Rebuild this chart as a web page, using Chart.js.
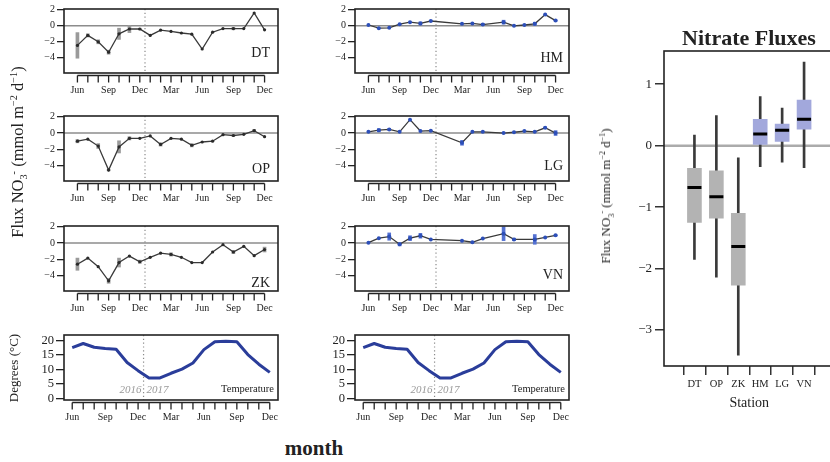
<!DOCTYPE html>
<html>
<head>
<meta charset="utf-8">
<script src="https://cdn.jsdelivr.net/npm/chart.js"></script>
<title>Nitrate fluxes</title>
<style>
  body { margin:0; width:830px; height:462px; overflow:hidden; position:relative; background:#fff;
         font-family:"Liberation Serif", serif; color:#222; }
  canvas { position:absolute; }
  .txt { position:absolute; white-space:nowrap; transform:translate(-50%,-50%); }
  .rot { transform:translate(-50%,-50%) rotate(-90deg); }
  sup, sub { font-size:62%; line-height:0; }
</style>
</head>
<body>
<canvas id="dt"></canvas><canvas id="op"></canvas><canvas id="zk"></canvas><canvas id="tl"></canvas>
<canvas id="hm"></canvas><canvas id="lg"></canvas><canvas id="vn"></canvas><canvas id="tr"></canvas>
<canvas id="box"></canvas>

<div class="txt rot" style="left:18px;top:152px;font-size:16.5px">Flux NO<sub>3</sub><sup>-</sup> (mmol m<sup>−2</sup> d<sup>−1</sup>)</div>
<div class="txt rot" style="left:14px;top:368px;font-size:13px">Degrees (°C)</div>
<div class="txt" style="left:314px;top:448px;font-size:21px;font-weight:bold">month</div>
<div class="txt" style="left:749px;top:38px;font-size:22px;font-weight:bold">Nitrate Fluxes</div>
<div class="txt rot" style="left:606px;top:196px;font-size:13px">Flux NO<sub>3</sub><sup>-</sup> (mmol m<sup>−2</sup> d<sup>−1</sup>)</div>

<script>
  // months Jun 2016 .. Dec 2017
  const months = ['Jun','Jul','Aug','Sep','Oct','Nov','Dec','Jan','Feb','Mar','Apr','May','Jun','Jul','Aug','Sep','Oct','Nov','Dec'];

  const dtFlux = [-2.45,-1.2,-2.0,-3.3,-1.0,-0.4,-0.4,-1.2,-0.55,-0.7,-0.9,-1.05,-2.9,-0.8,-0.35,-0.35,-0.35,1.6,-0.5];
  const dtErr  = [1.6,0.2,0.25,0.25,0.7,0.45,0.1,0,0,0,0,0,0,0,0,0.15,0,0,0];
  const opFlux = [-1.0,-0.75,-1.6,-4.55,-1.7,-0.65,-0.65,-0.35,-1.4,-0.65,-0.75,-1.5,-1.1,-1.0,-0.2,-0.3,-0.15,0.3,-0.45];
  const opErr  = [0.2,0,0.3,0.1,0.75,0.2,0,0,0.2,0,0,0.2,0,0,0,0.1,0,0.15,0];
  const zkFlux = [-2.6,-1.85,-2.9,-4.65,-2.4,-1.6,-2.3,-1.75,-1.25,-1.4,-1.75,-2.4,-2.4,-1.1,-0.2,-1.1,-0.4,-1.55,-0.8];
  const zkErr  = [0.75,0,0,0.3,0.55,0,0.2,0,0,0.2,0,0,0,0,0,0.2,0,0,0.3];
  const hmFlux = [0.1,-0.3,-0.25,0.2,0.45,0.3,0.6,null,null,0.25,0.3,0.15,null,0.45,0.0,0.1,0.25,1.4,0.65];
  const hmErr  = [0,0,0,0,0,0.2,0,0,0,0,0,0.15,0,0.25,0,0,0.2,0,0.1];
  const lgFlux = [0.15,0.35,0.45,0.15,1.65,0.25,0.3,null,null,-1.2,0.15,0.15,null,0.0,0.1,0.25,0.15,0.65,0.0];
  const lgErr  = [0,0.2,0.1,0,0,0,0,0,0,0.3,0,0,0,0,0,0,0,0.1,0.3];
  const vnFlux = [0.05,0.6,0.8,-0.15,0.6,0.9,0.45,null,null,0.3,0.1,0.55,null,1.15,0.45,null,0.45,0.7,0.95];
  const vnErr  = [0,0,0.45,0.2,0.3,0.3,0,0,0,0,0,0,0,0.85,0.15,0,0.6,0,0.1];

  const temperature = [17.5,18.9,17.6,17.2,16.9,12.4,9.6,7.1,7.1,8.7,10.1,12.2,16.8,19.5,19.7,19.5,15.1,11.8,9.0];

  const stations  = ['DT','OP','ZK','HM','LG','VN'];
  const whiskerLo = [-1.85,-2.14,-3.41,-0.34,-0.27,-0.36];
  const q1        = [-1.25,-1.18,-2.27,0.02,0.07,0.27];
  const medians   = [-0.68,-0.83,-1.64,0.19,0.25,0.43];
  const q3        = [-0.37,-0.41,-1.10,0.43,0.35,0.74];
  const whiskerHi = [0.17,0.49,-0.20,0.80,0.61,1.36];

  const serif = 'Liberation Serif';
  const minus = v => v < 0 ? '\u2212' + Math.abs(v) : String(v);

  function place(id, x, y, w, h) {
    const c = document.getElementById(id);
    c.width = w; c.height = h;
    c.style.left = x + 'px'; c.style.top = y + 'px';
    return c;
  }

  // frame, zero line, year split, R-style x axis, panel name
  const deco = {
    id: 'deco',
    beforeDatasetsDraw(chart, args, o) {
      const {ctx, chartArea: a, scales: {x, y}} = chart;
      ctx.save();
      if (o.zero) {
        const y0 = y.getPixelForValue(0);
        ctx.strokeStyle = o.zeroColor; ctx.lineWidth = o.zeroWidth;
        ctx.beginPath(); ctx.moveTo(a.left, y0); ctx.lineTo(a.right, y0); ctx.stroke();
      }
      if (o.split) {
        const xs = x.getPixelForValue(6.5);
        ctx.strokeStyle = '#8a8a8a'; ctx.lineWidth = 1.2; ctx.setLineDash([1.2, 2.6]);
        ctx.beginPath(); ctx.moveTo(xs, a.top); ctx.lineTo(xs, a.bottom); ctx.stroke();
        ctx.setLineDash([]);
      }
      ctx.restore();
    },
    afterDraw(chart, args, o) {
      const {ctx, chartArea: a, scales: {x}} = chart;
      ctx.save();
      ctx.strokeStyle = '#222'; ctx.lineWidth = 1.6;
      ctx.strokeRect(a.left, a.top, a.width, a.height);
      if (o.monthAxis) {
        const ya = a.bottom + 2.5;
        ctx.lineWidth = 1.3;
        ctx.beginPath();
        ctx.moveTo(x.getPixelForValue(0), ya); ctx.lineTo(x.getPixelForValue(months.length - 1), ya);
        months.forEach((m, i) => { const px = x.getPixelForValue(i); ctx.moveTo(px, ya); ctx.lineTo(px, a.bottom + 9.5); });
        ctx.stroke();
      }
      if (o.name) {
        ctx.fillStyle = '#222'; ctx.font = o.nameSize + 'px "' + serif + '"';
        ctx.textAlign = 'right'; ctx.textBaseline = 'middle';
        ctx.fillText(o.name, a.right - o.nameInset, a.bottom - o.nameUp);
      }
      if (o.years) {
        const xs = x.getPixelForValue(6.5);
        ctx.fillStyle = '#999'; ctx.font = 'italic 11px "' + serif + '"'; ctx.textBaseline = 'middle';
        ctx.textAlign = 'right'; ctx.fillText('2016', xs - 2, a.bottom - 10);
        ctx.textAlign = 'left'; ctx.fillText('2017', xs + 3, a.bottom - 10);
      }
      ctx.restore();
    }
  };

  function monthScale(axisH) {
    return {
      type: 'linear', min: -0.75, max: 18.75,
      afterBuildTicks: s => { s.ticks = months.map((m, i) => ({value: i})); },
      afterFit: s => { s.height = axisH; },
      grid: {drawOnChartArea: false, color: 'rgba(0,0,0,0)', tickLength: 9},
      border: {display: false},
      ticks: {autoSkip: false, maxRotation: 0, padding: 2, color: '#222',
              font: {family: serif, size: 10},
              callback: v => v % 3 === 0 ? months[v] : ''}
    };
  }

  function fluxPanel(id, cx, cy, box, vals, errs, name, nameUp, right) {
    const c = place(id, cx, cy, 290, 100);
    const line = vals.map((v, i) => ({x: i, y: v})).filter(p => p.y !== null);
    const bars = vals.map((v, i) => (v === null || !errs[i]) ? null : {x: i, y: [v - errs[i], v + errs[i]]})
                     .filter(p => p !== null);
    new Chart(c, {
      type: 'line',
      data: {datasets: [
        {type: 'line', data: line, order: 0, borderColor: '#3a3a3a', borderWidth: 1.3,
         pointRadius: right ? 2 : 1.6, pointBorderWidth: 0,
         pointBackgroundColor: right ? '#2d4fb8' : '#2a2a2a'},
        {type: 'bar', data: bars, order: 1, grouped: false, barThickness: 3,
         backgroundColor: right ? '#5572d2' : '#9a9a9a'}
      ]},
      options: {
        responsive: false, animation: false, events: [],
        layout: {padding: {left: 0, top: box.t - cy, right: cx + 290 - box.r, bottom: 0}},
        plugins: {legend: {display: false}, tooltip: {enabled: false},
          deco: {zero: true, zeroColor: '#8c8c8c', zeroWidth: 1.5, split: true, monthAxis: true,
                 name: name, nameSize: 14, nameInset: right ? 6 : 8, nameUp: nameUp}},
        scales: {
          x: monthScale(cy + 100 - box.b),
          y: {min: -5.9, max: 2.1,
              afterBuildTicks: s => { s.ticks = [-4, -2, 0, 2].map(v => ({value: v})); },
              afterFit: s => { s.width = box.l - cx; },
              grid: {drawOnChartArea: false, color: '#222', lineWidth: 1.3, tickLength: 7},
              border: {display: false},
              ticks: {autoSkip: false, padding: 2, color: '#222', font: {family: serif, size: 10}, callback: minus}}
        }
      },
      plugins: [deco]
    });
  }

  function tempPanel(id, cx, cy, box) {
    const c = place(id, cx, cy, 290, 100);
    new Chart(c, {
      type: 'line',
      data: {datasets: [
        {data: temperature.map((v, i) => ({x: i, y: v})), borderColor: '#2a3d9a', borderWidth: 3,
         pointRadius: 0, borderJoinStyle: 'round'}
      ]},
      options: {
        responsive: false, animation: false, events: [],
        layout: {padding: {left: 0, top: box.t - cy, right: cx + 290 - box.r, bottom: 0}},
        plugins: {legend: {display: false}, tooltip: {enabled: false},
          deco: {split: true, monthAxis: true, years: true,
                 name: 'Temperature', nameSize: 10.5, nameInset: 4, nameUp: 11}},
        scales: {
          x: monthScale(cy + 100 - box.b),
          y: {min: -0.45, max: 21.8,
              afterBuildTicks: s => { s.ticks = [0, 5, 10, 15, 20].map(v => ({value: v})); },
              afterFit: s => { s.width = box.l - cx; },
              grid: {drawOnChartArea: false, color: '#222', lineWidth: 1.3, tickLength: 8},
              border: {display: false},
              ticks: {autoSkip: false, padding: 2, color: '#222', font: {family: serif, size: 12.5}}}
        }
      },
      plugins: [deco]
    });
  }

  fluxPanel('dt', 0, 0,   {l: 64, r: 278, t: 9,   b: 73},  dtFlux, dtErr, 'DT', 20, false);
  fluxPanel('op', 0, 105, {l: 64, r: 278, t: 116, b: 181}, opFlux, opErr, 'OP', 12, false);
  fluxPanel('zk', 0, 215, {l: 64, r: 278, t: 226, b: 291}, zkFlux, zkErr, 'ZK', 8, false);
  tempPanel('tl', 0, 325, {l: 64, r: 278, t: 335, b: 400});

  fluxPanel('hm', 295, 0,   {l: 355, r: 569, t: 9,   b: 73},  hmFlux, hmErr, 'HM', 15, true);
  fluxPanel('lg', 295, 105, {l: 355, r: 569, t: 116, b: 181}, lgFlux, lgErr, 'LG', 15, true);
  fluxPanel('vn', 295, 215, {l: 355, r: 569, t: 226, b: 291}, vnFlux, vnErr, 'VN', 16, true);
  tempPanel('tr', 295, 325, {l: 355, r: 569, t: 335, b: 400});

  // boxplot of all stations
  const boxColors = ['#b3b3b3', '#b3b3b3', '#b3b3b3', '#a2a8dc', '#a2a8dc', '#a2a8dc'];
  const bc = place('box', 596, 0, 254, 412);
  new Chart(bc, {
    type: 'line',
    data: {datasets: [
      {type: 'line', showLine: false, order: 0, data: medians.map((v, i) => ({x: i + 1, y: v})),
       pointStyle: 'line', pointRadius: 7, pointBorderWidth: 3, pointBorderColor: '#000'},
      {type: 'bar', order: 1, grouped: false, barThickness: 14, backgroundColor: boxColors,
       data: stations.map((s, i) => ({x: i + 1, y: [q1[i], q3[i]]}))},
      {type: 'bar', order: 2, grouped: false, barThickness: 2, backgroundColor: '#3a3a3a',
       data: stations.map((s, i) => ({x: i + 1, y: [whiskerLo[i], whiskerHi[i]]}))}
    ]},
    options: {
      responsive: false, animation: false, events: [],
      layout: {padding: {left: 0, top: 51, right: 15.5, bottom: 0}},
      plugins: {legend: {display: false}, tooltip: {enabled: false},
        deco: {zero: true, zeroColor: '#ababab', zeroWidth: 2.5}},
      scales: {
        x: {type: 'linear', min: 0.26, max: 6.74,
            afterBuildTicks: s => { s.ticks = stations.map((t, i) => ({value: i + 1})); },
            afterFit: s => { s.height = 412 - 366; },
            grid: {drawOnChartArea: false, color: '#333', lineWidth: 1.5, tickLength: 9},
            border: {display: false},
            ticks: {autoSkip: false, maxRotation: 0, padding: 3, color: '#222',
                    font: {family: serif, size: 10.5}, callback: v => stations[v - 1]},
            title: {display: true, text: 'Station', color: '#222', padding: 0,
                    font: {family: serif, size: 14}}},
        y: {min: -3.585, max: 1.54,
            afterBuildTicks: s => { s.ticks = [-3, -2, -1, 0, 1].map(v => ({value: v})); },
            afterFit: s => { s.width = 664 - 596; },
            grid: {drawOnChartArea: false, color: '#333', lineWidth: 1.5, tickLength: 9},
            border: {display: false},
            ticks: {autoSkip: false, padding: 3, color: '#222', font: {family: serif, size: 13}, callback: minus}}
      }
    },
    plugins: [deco]
  });
</script>
</body>
</html>
